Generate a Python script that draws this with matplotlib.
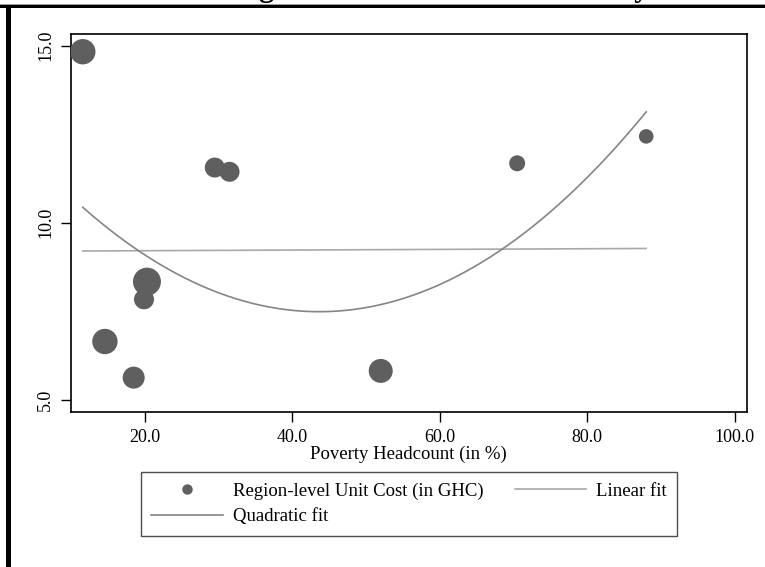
import numpy as np
import matplotlib
matplotlib.use("Agg")
import matplotlib.pyplot as plt
from matplotlib.patches import Rectangle
from matplotlib.lines import Line2D

plt.rcParams['font.family'] = ['Liberation Serif', 'DejaVu Serif']

# ---- data ----
poverty_headcount = [11.6, 29.5, 31.5, 70.5, 88.0, 20.3, 19.9, 14.6, 18.5, 52.0]
unit_cost = [14.83, 11.56, 11.44, 11.68, 12.44, 8.34, 7.84, 6.65, 5.63, 5.82]
region_weight = [161, 100, 100, 64, 53, 196, 100, 161, 121, 144]
linear_fit_coef = [0.00093, 9.194]            # slope, intercept
quadratic_fit_coef = [0.002868, -0.2504, 12.957]  # a, b, c
x_ticks = [20, 40, 60, 80, 100]
x_tick_labels = ["20.0", "40.0", "60.0", "80.0", "100.0"]
y_ticks = [5, 10, 15]
y_tick_labels = ["5.0", "10.0", "15.0"]
title_text = "Figure 3: Unit Cost and Poverty"

W, H = 765, 567
fig = plt.figure(figsize=(W / 100, H / 100), dpi=100)
ax = fig.add_axes([71 / W, 1 - 412 / H, (746.5 - 71) / W, (412 - 34) / H])

marker_col = '#5f5f5f'
sizes = np.array(region_weight) * (2 * 0.72) ** 2
ax.scatter(poverty_headcount, unit_cost, s=sizes, color=marker_col,
           edgecolors='none', zorder=3)

xs = np.linspace(min(poverty_headcount), max(poverty_headcount), 200)
lin = ax.plot(xs, np.polyval(linear_fit_coef, xs), color='#a8a8a8', lw=1.2, zorder=2)[0]
quad = ax.plot(xs, np.polyval(quadratic_fit_coef, xs), color='#858585', lw=1.2, zorder=2)[0]

ax.set_xlim(10.0, 101.6)
ax.set_ylim(4.66, 15.33)
ax.set_xticks(x_ticks)
ax.set_xticklabels(x_tick_labels, fontsize=13)
ax.set_yticks(y_ticks)
ax.set_yticklabels(y_tick_labels, fontsize=13, rotation=90, va='center')
ax.tick_params(direction='out', length=7, width=1, pad=5)
for s in ax.spines.values():
    s.set_linewidth(1.2)
ax.set_xlabel("Poverty Headcount (in %)", fontsize=13.5, labelpad=0)

h_dot = Line2D([], [], marker='o', linestyle='none', color=marker_col, markersize=6.5)
leg = fig.legend([h_dot, quad, lin],
                 ["Region-level Unit Cost (in GHC)", "Quadratic fit", "Linear fit"],
                 ncol=2, loc='center', mode='expand', borderaxespad=0,
                 bbox_to_anchor=(141 / W, 1 - 535 / H, (677 - 141) / W, (535 - 473) / H),
                 fontsize=13.5, frameon=True, fancybox=False, handlelength=3.8,
                 handletextpad=0.55, labelspacing=0.45, borderpad=0.55,
                 columnspacing=1.0)
leg.get_frame().set_edgecolor('#222222')
leg.get_frame().set_linewidth(1.0)

# outer frame pieces
fig.add_artist(Rectangle((0, 1 - 8 / H), 1, 3.4 / H, transform=fig.transFigure,
                         facecolor='black', edgecolor='none'))
fig.add_artist(Rectangle((0, 1 - 4.7 / H), 1, 0.8 / H, transform=fig.transFigure,
                         facecolor='#999999', edgecolor='none'))
fig.add_artist(Rectangle((6 / W, 0), 4.7 / W, 1 - 5 / H, transform=fig.transFigure,
                         facecolor='black', edgecolor='none'))

fig.text(232 / W, 1 + 4 / H, title_text, fontsize=22, fontweight='bold',
         ha='left', va='baseline')

fig.savefig("out.png", dpi=100)
